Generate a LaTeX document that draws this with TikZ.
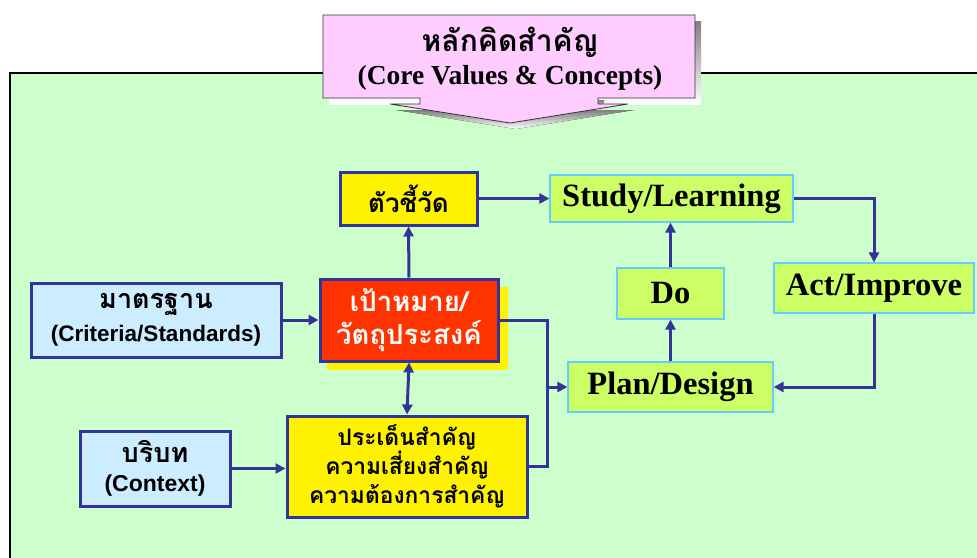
\documentclass[tikz,border=0pt]{standalone}
\usepackage{fontspec}
\setmainfont{Liberation Serif}
\setsansfont{Liberation Sans}
\newfontfamily\thai[Script=Thai]{Loma}
\usetikzlibrary{arrows.meta}
\definecolor{bg}{HTML}{CCFFCC}
\definecolor{navy}{HTML}{333399}
\definecolor{lime}{HTML}{CCFF66}
\definecolor{sky}{HTML}{66CCFF}
\definecolor{pale}{HTML}{CCECFF}
\definecolor{pinkf}{HTML}{FFCCFF}
\definecolor{redf}{HTML}{FF3300}
\definecolor{shade}{HTML}{808080}
\tikzset{
  navybox/.style={draw=navy, line width=3pt, align=center, inner sep=0pt},
  bluebox/.style={navybox, fill=pale},
  yelbox/.style={navybox, fill=yellow},
  limebox/.style={draw=sky, line width=1.2pt, fill=lime, inner sep=0pt,
    font=\bfseries\fontsize{32.5}{36}\selectfont},
  thaifont/.style 2 args={font=\thai\bfseries\fontsize{#1}{#2}\selectfont},
  tip/.tip={Triangle[length=10pt,width=10pt]},
  conn/.style={draw=navy, line width=3pt, -tip},
  plain/.style={draw=navy, line width=3pt},
}
\begin{document}
\begin{tikzpicture}[x=1pt,y=-1pt]
\useasboundingbox (0,0) rectangle (977,557);
\clip (0,0) rectangle (977,557);
% background panel
\draw[fill=bg, line width=1.5pt] (10,73) rectangle (990,575);

% banner shadow
\fill[shade] (329,21) rectangle (701,104);
\fill[shade] (426,100) rectangle (604,110);
\fill[shade] (396,110) -- (634,110) -- (516,129) -- cycle;
% banner body
\fill[pinkf] (323,15) rectangle (695,98);
\fill[pinkf] (420,96) rectangle (598,105);
\fill[pinkf] (390,104) -- (628,104) -- (510,123) -- cycle;
\draw[black!80, line width=0.8pt, line join=miter] (323,15) -- (695,15) -- (695,98) -- (598,98) -- (598,104) -- (628,104)
  -- (510,123) -- (390,104) -- (420,104) -- (420,98) -- (323,98) -- cycle;
\node[thaifont={30}{34}, inner sep=0pt] (core1) at (510,42) {หลักคิดสำคัญ};
\node[font=\bfseries\fontsize{27.5}{30}\selectfont, inner sep=0pt] (core2) at (510,78) {(Core Values \& Concepts)};

% nodes
\node[yelbox, thaifont={26}{32}, minimum width=137pt, minimum height=53pt] (ind) at (408.5,198.5) {ตัวชี้วัด};
\node[limebox, minimum width=243pt, minimum height=47pt] (study) at (671.5,198.5) {Study/Learning};
\node[limebox, minimum width=200pt, minimum height=50pt] (act) at (874,288) {Act/Improve};
\node[limebox, minimum width=107pt, minimum height=51pt] (do) at (670.5,293.5) {Do};
\node[limebox, minimum width=205pt, minimum height=50pt] (plan) at (670.5,387) {Plan/Design};

\node[bluebox, font=\fontsize{22}{33}\selectfont, minimum width=250pt, minimum height=74pt] (std) at (156,320)
  {{\thai\bfseries\fontsize{27}{33}\selectfont มาตรฐาน}\\
   {\sffamily\bfseries\fontsize{22.5}{33}\selectfont (Criteria/Standards)}};

\fill[yellow] (327,287) rectangle (508,370);
\node[navybox, fill=redf, text=white, thaifont={27.5}{33}, minimum width=178pt, minimum height=82pt] (goal) at (409,320)
  {เป้าหมาย/\\วัตถุประสงค์};

\node[yelbox, thaifont={22.8}{29}, minimum width=240pt, minimum height=101pt] (issue) at (407,466.5)
  {ประเด็นสำคัญ\\ความเสี่ยงสำคัญ\\ความต้องการสำคัญ};

\node[bluebox, font=\fontsize{22}{29}\selectfont, minimum width=150pt, minimum height=75pt] (ctx) at (155,468.5)
  {{\thai\bfseries\fontsize{27}{29}\selectfont บริบท}\\
   {\sffamily\bfseries\fontsize{23}{29}\selectfont (Context)}};

% connectors
\draw[conn] (ind) -- (study);
\draw[conn] (study.east) -| (act.north);
\draw[conn] (act.south) |- (plan.east);
\draw[conn] (plan.north) -- (do.south);
\draw[conn] (do.north) -- (do.north |- study.south);
\draw[conn] (goal.north) -- (ind.south);
\draw[conn] (std) -- (goal);
\draw[conn, tip-tip] (goal.south) -- (issue.north);
\draw[conn] (ctx.east) -- (ctx.east -| issue.west);
\coordinate (j) at (547,387);
\draw[plain] (goal.east) -| (j);
\draw[plain] (issue.east) -| (j);
\draw[conn] (j) -- (plan.west);
\end{tikzpicture}
\end{document}
